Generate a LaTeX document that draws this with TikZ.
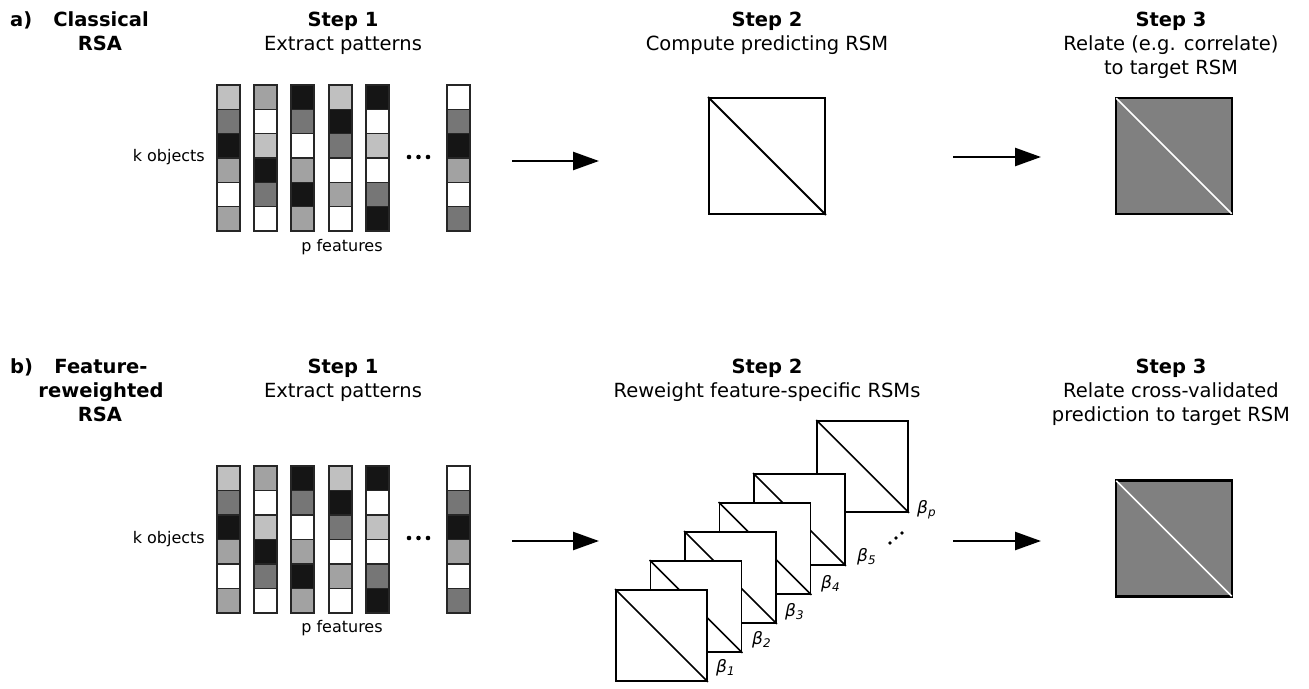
\documentclass[tikz,border=0pt]{standalone}
\usepackage{fontspec}
\setmainfont{DejaVu Sans}
\usetikzlibrary{arrows.meta}
\definecolor{cL}{HTML}{C0C0C0}
\definecolor{cM}{HTML}{A2A2A2}
\definecolor{cD}{HTML}{767676}
\definecolor{cK}{HTML}{151515}
\definecolor{cW}{HTML}{FFFFFF}
\definecolor{rsmfill}{HTML}{808080}
\tikzset{
  head/.style={font=\fontsize{19.5}{23}\selectfont\bfseries, anchor=base, inner sep=0pt},
  sub/.style={font=\fontsize{19.5}{23}\selectfont, anchor=base, inner sep=0pt},
  lab/.style={font=\fontsize{16}{19}\selectfont, inner sep=0pt},
  betalab/.style={font=\fontsize{17}{20}\selectfont\itshape, anchor=west, inner sep=0pt},
  cell/.style={draw=black!85, line width=1.5pt},
  rsm/.style={draw, line width=1.8pt, fill=white, minimum size=116pt, inner sep=0pt},
  small/.style={draw, line width=1.8pt, fill=white, minimum size=91pt, inner sep=0pt},
  tgt/.style={draw, line width=2.4pt, fill=rsmfill, minimum size=116pt, inner sep=0pt},
  arr/.style={line width=2.5pt, -{Triangle[length=26pt,width=18pt]}},
  dotc/.style={fill=black},
}
\begin{document}
\begin{tikzpicture}[x=1pt,y=-1pt]
\useasboundingbox (0,0) rectangle (1309,688);

% ---------- row a ----------
\node[head, anchor=base west] (la) at (10,26.5) {a)};
\node[head] (cl1) at (101,26.5) {Classical};
\node[head] (cl2) at (100,50) {RSA};
\node[head] (a1h) at (343,26.5) {Step 1};
\node[sub]  (a1t) at (343,50) {Extract patterns};
\node[head] (a2h) at (767,26.5) {Step 2};
\node[sub]  (a2t) at (767,50) {Compute predicting RSM};
\node[head] (a3h) at (1171,26.5) {Step 3};
\node[sub]  (a3t) at (1171,50) {Relate (e.g. correlate)};
\node[sub]  (a3u) at (1171,74) {to target RSM};

\foreach \x/\cs in {217/{cL,cD,cK,cM,cW,cM}, 254/{cM,cW,cL,cK,cD,cW}, 291/{cK,cD,cW,cM,cK,cM},
                    329/{cL,cK,cD,cW,cM,cW}, 366/{cK,cW,cL,cW,cD,cK}, 447/{cW,cD,cK,cM,cW,cD}}{
  \foreach \c [count=\j from 0] in \cs {
    \draw[cell, fill=\c] (\x,85+\j*24.33) rectangle ++(23,24.33);
  }
}
\node[lab, anchor=east] (ako) at (205,157) {k objects};
\node[lab] (apf) at (342,247) {p features};
\foreach \xx in {409,418.5,428} \fill[dotc] (\xx,157) circle (2.3);

\coordinate (a1s) at (512,161);
\coordinate (a1e) at (599,161);
\draw[arr] (a1s) -- (a1e);

\node[rsm] (arsm) at (767,156) {};
\draw[line width=1.8pt] (arsm.north west) -- (arsm.south east);

\coordinate (a2s) at (953,157);
\coordinate (a2e) at (1041,157);
\draw[arr] (a2s) -- (a2e);

\node[tgt] (atgt) at (1174,156) {};
\draw[white, line width=1.6pt] ([shift={(1.5,1.5)}]atgt.north west) -- ([shift={(-1.5,-1.5)}]atgt.south east);

% ---------- row b ----------
\node[head, anchor=base west] (lb) at (10,373) {b)};
\node[head] (fr1) at (101,373) {Feature-};
\node[head] (fr2) at (101,397) {reweighted};
\node[head] (fr3) at (100,421) {RSA};
\node[head] (b1h) at (343,373) {Step 1};
\node[sub]  (b1t) at (343,397) {Extract patterns};
\node[head] (b2h) at (767,373) {Step 2};
\node[sub]  (b2t) at (767,397) {Reweight feature-specific RSMs};
\node[head] (b3h) at (1171,373) {Step 3};
\node[sub]  (b3t) at (1171,397) {Relate cross-validated};
\node[sub]  (b3u) at (1171,421) {prediction to target RSM};

\foreach \x/\cs in {217/{cL,cD,cK,cM,cW,cM}, 254/{cM,cW,cL,cK,cD,cW}, 291/{cK,cD,cW,cM,cK,cM},
                    329/{cL,cK,cD,cW,cM,cW}, 366/{cK,cW,cL,cW,cD,cK}, 447/{cW,cD,cK,cM,cW,cD}}{
  \foreach \c [count=\j from 0] in \cs {
    \draw[cell, fill=\c] (\x,466+\j*24.5) rectangle ++(23,24.5);
  }
}
\node[lab, anchor=east] (bko) at (205,539) {k objects};
\node[lab] (bpf) at (342,628) {p features};
\foreach \xx in {409,418.5,428} \fill[dotc] (\xx,538) circle (2.3);

\coordinate (b1s) at (512,541);
\coordinate (b1e) at (599,541);
\draw[arr] (b1s) -- (b1e);

\foreach \k/\nm in {5.83/sqp,4/sq5,3/sq4,2/sq3,1/sq2,0/sq1}{
  \node[small] (\nm) at (661.5+34.5*\k, 635.5-29*\k) {};
  \draw[line width=1.6pt] (\nm.north west) -- (\nm.south east);
}
\node[betalab] (b1) at (716,668) {β\textsubscript{1}};
\node[betalab] (b2) at (752,640) {β\textsubscript{2}};
\node[betalab] (b3) at (785,612) {β\textsubscript{3}};
\node[betalab] (b4) at (821,584) {β\textsubscript{4}};
\node[betalab] (b5) at (857,557) {β\textsubscript{5}};
\node[betalab] (bp) at (917,510) {β\textsubscript{p}};
\foreach \xx/\yy in {890/543,896/538,902/533} \fill[dotc] (\xx,\yy) circle (1.8);

\coordinate (b2s) at (953,541);
\coordinate (b2e) at (1041,541);
\draw[arr] (b2s) -- (b2e);

\node[tgt] (btgt) at (1174,538.5) {};
\draw[white, line width=1.6pt] ([shift={(1.5,1.5)}]btgt.north west) -- ([shift={(-1.5,-1.5)}]btgt.south east);
\end{tikzpicture}
\end{document}
